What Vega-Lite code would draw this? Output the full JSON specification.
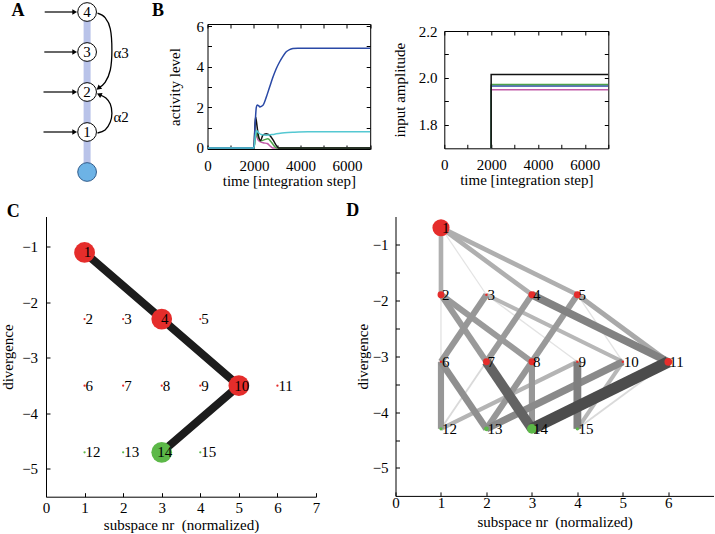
{
 "$schema": "https://vega.github.io/schema/vega-lite/v6.json",
 "padding": 0,
 "background": "white",
 "spacing": 11.5,
 "center": false,
 "config": {
  "view": {"stroke": null},
  "font": "Liberation Serif",
  "axis": {"grid": false, "labelFont": "Liberation Serif", "titleFont": "Liberation Serif", "labelFontSize": 15, "titleFontSize": 15, "titleFontWeight": "normal", "labelColor": "#000", "titleColor": "#000", "domainColor": "#000", "tickColor": "#000", "tickSize": -4, "labelFlush": false, "labelOverlap": false, "labelPadding": 8, "titlePadding": 4},
  "text": {"font": "Liberation Serif", "fontSize": 15, "color": "#000"}
 },
 "datasets": {
  "diagramNodes": [
   {"x": 2.17, "y": 1, "n": "1"}, {"x": 2.17, "y": 2, "n": "2"}, {"x": 2.17, "y": 3, "n": "3"}, {"x": 2.17, "y": 4, "n": "4"}
  ],
  "activity": [
   {"s":"u1","t":0,"v":0},{"s":"u1","t":1995,"v":0},{"s":"u1","t":2050,"v":0.45},{"s":"u1","t":2096,"v":0.66},{"s":"u1","t":2167,"v":0.41},{"s":"u1","t":2282,"v":0.3},{"s":"u1","t":2426,"v":0.25},{"s":"u1","t":2569,"v":0.22},{"s":"u1","t":2713,"v":0.08},{"s":"u1","t":2813,"v":0},{"s":"u1","t":7000,"v":0},
   {"s":"u2","t":0,"v":0},{"s":"u2","t":1995,"v":0},{"s":"u2","t":2060,"v":0.5},{"s":"u2","t":2110,"v":0.75},{"s":"u2","t":2196,"v":0.5},{"s":"u2","t":2310,"v":0.36},{"s":"u2","t":2454,"v":0.41},{"s":"u2","t":2598,"v":0.45},{"s":"u2","t":2741,"v":0.3},{"s":"u2","t":2885,"v":0.08},{"s":"u2","t":2971,"v":0},{"s":"u2","t":7000,"v":0},
   {"s":"u3","t":0,"v":0},{"s":"u3","t":1995,"v":0},{"s":"u3","t":2030,"v":0.8},{"s":"u3","t":2067,"v":1.53},{"s":"u3","t":2100,"v":1.35},{"s":"u3","t":2139,"v":1.0},{"s":"u3","t":2196,"v":0.58},{"s":"u3","t":2282,"v":0.36},{"s":"u3","t":2383,"v":0.63},{"s":"u3","t":2526,"v":0.7},{"s":"u3","t":2670,"v":0.63},{"s":"u3","t":2813,"v":0.41},{"s":"u3","t":2957,"v":0.13},{"s":"u3","t":3057,"v":0},{"s":"u3","t":7000,"v":0},
   {"s":"u4","t":0,"v":0},{"s":"u4","t":1995,"v":0},{"s":"u4","t":2050,"v":1.2},{"s":"u4","t":2100,"v":2.0},{"s":"u4","t":2140,"v":2.12},{"s":"u4","t":2200,"v":2.08},{"s":"u4","t":2253,"v":2.02},{"s":"u4","t":2320,"v":2.05},{"s":"u4","t":2400,"v":2.12},{"s":"u4","t":2526,"v":2.49},{"s":"u4","t":2670,"v":2.99},{"s":"u4","t":2813,"v":3.48},{"s":"u4","t":2957,"v":3.9},{"s":"u4","t":3100,"v":4.23},{"s":"u4","t":3244,"v":4.51},{"s":"u4","t":3387,"v":4.73},{"s":"u4","t":3531,"v":4.84},{"s":"u4","t":3674,"v":4.89},{"s":"u4","t":3889,"v":4.91},{"s":"u4","t":7000,"v":4.91},
   {"s":"u5","t":0,"v":0},{"s":"u5","t":1995,"v":0},{"s":"u5","t":2060,"v":0.6},{"s":"u5","t":2110,"v":0.86},{"s":"u5","t":2196,"v":0.75},{"s":"u5","t":2310,"v":0.66},{"s":"u5","t":2526,"v":0.63},{"s":"u5","t":2885,"v":0.68},{"s":"u5","t":3315,"v":0.75},{"s":"u5","t":3745,"v":0.78},{"s":"u5","t":4318,"v":0.8},{"s":"u5","t":7000,"v":0.8}
  ],
  "input": [
   {"s":"u1","t":0,"v":0},{"s":"u1","t":2000,"v":1.95},{"s":"u1","t":7000,"v":1.95},
   {"s":"u4","t":0,"v":0},{"s":"u4","t":2000,"v":1.966},{"s":"u4","t":7000,"v":1.966},
   {"s":"u2","t":0,"v":0},{"s":"u2","t":2000,"v":1.972},{"s":"u2","t":7000,"v":1.972},
   {"s":"u3","t":0,"v":0},{"s":"u3","t":2000,"v":2.015},{"s":"u3","t":7000,"v":2.015}
  ],
  "nodesC": [
   {"id":"1","x":1,"y":-1.1,"act":1,"kind":"intermediate"},
   {"id":"2","x":1,"y":-2.3,"act":0.012,"kind":"intermediate"},
   {"id":"3","x":2,"y":-2.3,"act":0.012,"kind":"intermediate"},
   {"id":"4","x":3,"y":-2.3,"act":1,"kind":"intermediate"},
   {"id":"5","x":4,"y":-2.3,"act":0.012,"kind":"intermediate"},
   {"id":"6","x":1,"y":-3.5,"act":0.012,"kind":"intermediate"},
   {"id":"7","x":2,"y":-3.5,"act":0.012,"kind":"intermediate"},
   {"id":"8","x":3,"y":-3.5,"act":0.012,"kind":"intermediate"},
   {"id":"9","x":4,"y":-3.5,"act":0.012,"kind":"intermediate"},
   {"id":"10","x":5,"y":-3.5,"act":1,"kind":"intermediate"},
   {"id":"11","x":6,"y":-3.5,"act":0.012,"kind":"intermediate"},
   {"id":"12","x":1,"y":-4.7,"act":0.012,"kind":"goal"},
   {"id":"13","x":2,"y":-4.7,"act":0.012,"kind":"goal"},
   {"id":"14","x":3,"y":-4.7,"act":1,"kind":"goal"},
   {"id":"15","x":4,"y":-4.7,"act":0.012,"kind":"goal"}
  ],
  "nodesD": [
   {"id":"1","x":1,"y":-0.7,"act":0.68,"kind":"intermediate"},
   {"id":"2","x":1,"y":-1.9,"act":0.11,"kind":"intermediate"},
   {"id":"3","x":2,"y":-1.9,"act":0.015,"kind":"intermediate"},
   {"id":"4","x":3,"y":-1.9,"act":0.11,"kind":"intermediate"},
   {"id":"5","x":4,"y":-1.9,"act":0.11,"kind":"intermediate"},
   {"id":"6","x":1,"y":-3.1,"act":0.015,"kind":"intermediate"},
   {"id":"7","x":2,"y":-3.1,"act":0.11,"kind":"intermediate"},
   {"id":"8","x":3,"y":-3.1,"act":0.11,"kind":"intermediate"},
   {"id":"9","x":4,"y":-3.1,"act":0.015,"kind":"intermediate"},
   {"id":"10","x":5,"y":-3.1,"act":0.015,"kind":"intermediate"},
   {"id":"11","x":6,"y":-3.1,"act":0.14,"kind":"intermediate"},
   {"id":"12","x":1,"y":-4.3,"act":0.025,"kind":"goal"},
   {"id":"13","x":2,"y":-4.3,"act":0.05,"kind":"goal"},
   {"id":"14","x":3,"y":-4.3,"act":0.22,"kind":"goal"},
   {"id":"15","x":4,"y":-4.3,"act":0.025,"kind":"goal"}
  ],
  "edgesD": [
   {"x":1,"y":-0.7,"x2":2,"y2":-1.9,"w":0.02},
   {"x":1,"y":-1.9,"x2":1,"y2":-3.1,"w":0.03},
   {"x":2,"y":-1.9,"x2":4,"y2":-3.1,"w":0.03},
   {"x":4,"y":-1.9,"x2":5,"y2":-3.1,"w":0.03},
   {"x":2,"y":-3.1,"x2":1,"y2":-4.3,"w":0.08},
   {"x":6,"y":-3.1,"x2":4,"y2":-4.3,"w":0.08},
   {"x":5,"y":-3.1,"x2":4,"y2":-4.3,"w":0.28},
   {"x":2,"y":-1.9,"x2":5,"y2":-3.1,"w":0.28},
   {"x":4,"y":-3.1,"x2":1,"y2":-4.3,"w":0.3},
   {"x":1,"y":-0.7,"x2":1,"y2":-1.9,"w":0.33},
   {"x":1,"y":-0.7,"x2":3,"y2":-1.9,"w":0.33},
   {"x":1,"y":-0.7,"x2":4,"y2":-1.9,"w":0.33},
   {"x":4,"y":-1.9,"x2":6,"y2":-3.1,"w":0.36},
   {"x":1,"y":-1.9,"x2":2,"y2":-3.1,"w":0.45},
   {"x":1,"y":-1.9,"x2":3,"y2":-3.1,"w":0.45},
   {"x":3,"y":-1.9,"x2":2,"y2":-3.1,"w":0.45},
   {"x":4,"y":-1.9,"x2":3,"y2":-3.1,"w":0.45},
   {"x":2,"y":-1.9,"x2":1,"y2":-3.1,"w":0.47},
   {"x":3,"y":-3.1,"x2":2,"y2":-4.3,"w":0.47},
   {"x":1,"y":-3.1,"x2":1,"y2":-4.3,"w":0.47},
   {"x":3,"y":-3.1,"x2":3,"y2":-4.3,"w":0.47},
   {"x":1,"y":-3.1,"x2":2,"y2":-4.3,"w":0.52},
   {"x":5,"y":-3.1,"x2":2,"y2":-4.3,"w":0.55},
   {"x":3,"y":-1.9,"x2":6,"y2":-3.1,"w":0.6},
   {"x":4,"y":-3.1,"x2":4,"y2":-4.3,"w":0.62},
   {"x":2,"y":-3.1,"x2":3,"y2":-4.3,"w":0.8},
   {"x":6,"y":-3.1,"x2":3,"y2":-4.3,"w":0.95}
  ]
 },
 "vconcat": [
  {
   "spacing": 0.5,
   "center": false,
   "hconcat": [
    {
     "width": 119.3, "height": 190,
     "encoding": {
      "x": {"field": "x", "type": "quantitative", "scale": {"domain": [1.1425, 4.125], "nice": false, "zero": false}, "axis": null},
      "y": {"field": "y", "type": "quantitative", "scale": {"domain": [-0.45, 4.3], "nice": false, "zero": false}, "axis": null}
     },
     "layer": [
      {"data": {"values": [{"x": 2.17, "y": 0, "y2": 4}]}, "mark": {"type": "rule", "strokeWidth": 7, "color": "#b9c3e9"}, "encoding": {"y2": {"field": "y2"}}},
      {"data": {"values": [{"x": 1.08, "x2": 1.86, "y": 1}, {"x": 1.08, "x2": 1.86, "y": 2}, {"x": 1.1, "x2": 1.86, "y": 3}, {"x": 1.11, "x2": 1.86, "y": 4}]}, "mark": {"type": "rule", "strokeWidth": 1.2, "color": "#000"}, "encoding": {"x2": {"field": "x2"}}},
      {"data": {"values": [{"x": 1.86, "y": 1}, {"x": 1.86, "y": 2}, {"x": 1.86, "y": 3}, {"x": 1.86, "y": 4}]}, "mark": {"type": "point", "shape": "triangle-right", "filled": true, "color": "#000", "size": 30, "opacity": 1}},
      {"data": {"values": [
        {"arc":"a3","o":1,"x":2.43,"y":3.97},{"arc":"a3","o":2,"x":2.62,"y":3.86},{"arc":"a3","o":3,"x":2.75,"y":3.58},{"arc":"a3","o":4,"x":2.79,"y":3.05},{"arc":"a3","o":5,"x":2.75,"y":2.55},{"arc":"a3","o":6,"x":2.62,"y":2.24},{"arc":"a3","o":7,"x":2.47,"y":2.11},
        {"arc":"a2","o":1,"x":2.43,"y":0.975},{"arc":"a2","o":2,"x":2.62,"y":1.05},{"arc":"a2","o":3,"x":2.75,"y":1.25},{"arc":"a2","o":4,"x":2.79,"y":1.47},{"arc":"a2","o":5,"x":2.75,"y":1.7},{"arc":"a2","o":6,"x":2.64,"y":1.85},{"arc":"a2","o":7,"x":2.49,"y":1.93}
       ]},
       "mark": {"type": "line", "color": "#000", "strokeWidth": 1.3, "interpolate": "cardinal"},
       "encoding": {"detail": {"field": "arc", "type": "nominal"}, "order": {"field": "o", "type": "quantitative"}}},
      {"data": {"values": [{"x": 2.47, "y": 2.11}]}, "mark": {"type": "point", "shape": "triangle", "angle": 230, "filled": true, "color": "#000", "size": 32, "opacity": 1}},
      {"data": {"values": [{"x": 2.49, "y": 1.93}]}, "mark": {"type": "point", "shape": "triangle", "angle": 295, "filled": true, "color": "#000", "size": 32, "opacity": 1}},
      {"data": {"name": "diagramNodes"}, "mark": {"type": "point", "shape": "circle", "filled": true, "fill": "#fff", "stroke": "#000", "strokeWidth": 1, "size": 350, "opacity": 1}},
      {"data": {"values": [{"x": 2.17, "y": 0}]}, "mark": {"type": "point", "shape": "circle", "filled": true, "fill": "#6db3e6", "stroke": "#2e5a8a", "strokeWidth": 1, "size": 350, "opacity": 1}},
      {"data": {"name": "diagramNodes"}, "mark": {"type": "text", "align": "center", "baseline": "middle", "fontSize": 15}, "encoding": {"text": {"field": "n"}}},
      {"data": {"values": [{"x": 2.83, "y": 2.975, "t": "α3"}, {"x": 2.83, "y": 1.375, "t": "α2"}]}, "mark": {"type": "text", "align": "left", "baseline": "middle", "fontSize": 15}, "encoding": {"text": {"field": "t"}}},
      {"data": {"values": [{"x": 0.44, "y": 4.025, "t": "A"}, {"x": 3.94, "y": 4.025, "t": "B"}]}, "mark": {"type": "text", "align": "center", "baseline": "middle", "fontSize": 18, "fontWeight": "bold"}, "encoding": {"text": {"field": "t"}}}
     ]
    },
    {
     "spacing": 19.8,
     "center": false,
     "hconcat": [
      {
       "spacing": 0,
       "center": false,
       "vconcat": [
        {"data": {"values": []}, "mark": {"type": "point", "opacity": 0}, "width": 1, "height": 17.7},
        {
         "width": 162.7, "height": 125,
         "view": {"stroke": "#000", "strokeWidth": 1},
         "data": {"name": "activity"},
         "layer": [
          {"mark": {"type": "line", "strokeWidth": 1.5, "interpolate": "monotone", "clip": true},
           "encoding": {
            "x": {"field": "t", "type": "quantitative", "scale": {"domain": [0, 7000], "nice": false, "zero": false}, "axis": {"values": [0,1000,2000,3000,4000,5000,6000,7000], "labelExpr": "datum.value % 2000 == 0 && datum.value < 7000 ? format(datum.value, 'd') : ''", "title": "time [integration step]", "domain": false, "labelPadding": 13, "titlePadding": 0}},
            "y": {"field": "v", "type": "quantitative", "scale": {"domain": [-0.05, 6.1], "nice": false, "zero": false}, "axis": {"values": [0,1,2,3,4,5,6], "labelExpr": "datum.value % 2 == 0 ? format(datum.value, 'd') : ''", "title": "activity level", "domain": false, "labelPadding": 8, "titlePadding": 14}},
            "color": {"field": "s", "type": "nominal", "scale": {"domain": ["u1","u2","u3","u4","u5"], "range": ["#c25aa8","#4fa44a","#111111","#2a49a6","#55c8d2"]}, "legend": null}
           }},
          {"mark": {"type": "line", "opacity": 0, "clip": true},
           "encoding": {
            "x": {"field": "t", "type": "quantitative", "scale": {"domain": [0, 7000], "nice": false, "zero": false}, "axis": {"orient": "top", "values": [0,1000,2000,3000,4000,5000,6000,7000], "labels": false, "title": null, "domain": false}},
            "y": {"field": "v", "type": "quantitative", "scale": {"domain": [-0.05, 6.1], "nice": false, "zero": false}, "axis": {"orient": "right", "values": [0,1,2,3,4,5,6], "labels": false, "title": null, "domain": false}},
            "detail": {"field": "s", "type": "nominal"}
           }}
         ],
         "resolve": {"axis": {"x": "independent", "y": "independent"}}
        }
       ]
      },
      {
       "spacing": 0,
       "center": false,
       "vconcat": [
        {"data": {"values": []}, "mark": {"type": "point", "opacity": 0}, "width": 1, "height": 22.7},
        {
         "width": 164, "height": 117.3,
         "view": {"stroke": "#000", "strokeWidth": 1},
         "data": {"name": "input"},
         "layer": [
          {"mark": {"type": "line", "strokeWidth": 1.5, "interpolate": "step-after", "clip": true},
           "encoding": {
            "x": {"field": "t", "type": "quantitative", "scale": {"domain": [0, 7000], "nice": false, "zero": false}, "axis": {"values": [0,1000,2000,3000,4000,5000,6000,7000], "labelExpr": "datum.value % 2000 == 0 && datum.value < 7000 ? format(datum.value, 'd') : ''", "title": "time [integration step]", "domain": false, "labelPadding": 13.5, "titlePadding": 0}},
            "y": {"field": "v", "type": "quantitative", "scale": {"domain": [1.7, 2.2], "nice": false, "zero": false}, "axis": {"values": [1.8,1.9,2.0,2.1,2.2], "labelExpr": "round(datum.value * 10) % 2 == 0 ? format(datum.value, '.1f') : ''", "title": "input amplitude", "domain": false, "labelPadding": 11.3, "titlePadding": 11}},
            "color": {"field": "s", "type": "nominal", "scale": {"domain": ["u1","u2","u3","u4","u5"], "range": ["#c25aa8","#4fa44a","#111111","#2a49a6","#55c8d2"]}, "legend": null}
           }},
          {"mark": {"type": "line", "opacity": 0, "clip": true},
           "encoding": {
            "x": {"field": "t", "type": "quantitative", "scale": {"domain": [0, 7000], "nice": false, "zero": false}, "axis": {"orient": "top", "values": [0,1000,2000,3000,4000,5000,6000,7000], "labels": false, "title": null, "domain": false}},
            "y": {"field": "v", "type": "quantitative", "scale": {"domain": [1.7, 2.2], "nice": false, "zero": false}, "axis": {"orient": "right", "values": [1.8,1.9,2.0,2.1,2.2], "labels": false, "title": null, "domain": false}},
            "detail": {"field": "s", "type": "nominal"}
           }}
         ],
         "resolve": {"axis": {"x": "independent", "y": "independent"}}
        }
       ]
      }
     ]
    }
   ]
  },
  {
   "spacing": 25.5,
   "center": false,
   "hconcat": [
    {
     "width": 270, "height": 280.2,
     "encoding": {
      "x": {"field": "x", "type": "quantitative", "scale": {"domain": [0, 7], "nice": false, "zero": false}, "axis": {"values": [0,1,2,3,4,5,6,7], "format": "d", "title": "subspace nr\u00a0 (normalized)", "labelPadding": 8, "titlePadding": 1.7}},
      "y": {"field": "y", "type": "quantitative", "scale": {"domain": [-5.5, -0.452], "nice": false, "zero": false}, "axis": {"values": [-5,-4,-3,-2,-1], "format": "d", "title": "divergence", "labelPadding": 12.4, "titlePadding": 6.3}}
     },
     "layer": [
      {"data": {"values": [{"x":1,"y":-1.1,"o":1},{"x":3,"y":-2.3,"o":2},{"x":5,"y":-3.5,"o":3},{"x":3,"y":-4.7,"o":4}]}, "mark": {"type": "line", "color": "#1c1c1c", "strokeWidth": 8}, "encoding": {"order": {"field": "o", "type": "quantitative"}}},
      {"data": {"name": "nodesC"}, "mark": {"type": "point", "shape": "circle", "filled": true, "opacity": 1, "strokeWidth": 0},
       "encoding": {
        "size": {"field": "act", "type": "quantitative", "scale": {"domain": [0, 1], "range": [0, 430]}, "legend": null},
        "fill": {"field": "kind", "type": "nominal", "scale": {"domain": ["intermediate", "goal"], "range": ["#e52d2b", "#5cb848"]}, "legend": null}
       }},
      {"data": {"name": "nodesC"}, "transform": [{"filter": "datum.act < 0.5"}], "mark": {"type": "text", "align": "left", "baseline": "middle", "dx": 1, "fontSize": 15}, "encoding": {"text": {"field": "id"}}},
      {"data": {"name": "nodesC"}, "transform": [{"filter": "datum.act >= 0.5"}], "mark": {"type": "text", "align": "center", "baseline": "middle", "dx": 3, "fontSize": 15}, "encoding": {"text": {"field": "id"}}},
      {"data": {"values": [{"x": -0.85, "y": -0.366, "t": "C"}]}, "mark": {"type": "text", "align": "center", "baseline": "middle", "fontSize": 18, "fontWeight": "bold"}, "encoding": {"text": {"field": "t"}}}
     ]
    },
    {
     "width": 318.3, "height": 279.4,
     "encoding": {
      "x": {"field": "x", "type": "quantitative", "scale": {"domain": [0, 7], "nice": false, "zero": false}, "axis": {"values": [0,1,2,3,4,5,6], "format": "d", "title": "subspace nr\u00a0 (normalized)", "labelPadding": 4, "titlePadding": 4}},
      "y": {"field": "y", "type": "quantitative", "scale": {"domain": [-5.5, -0.5], "nice": false, "zero": false}, "axis": {"values": [-5,-4.5,-4,-3.5,-3,-2.5,-2,-1.5,-1], "labelExpr": "datum.value % 1 == 0 ? format(datum.value, 'd') : ''", "title": "divergence", "labelPadding": 11.4, "titlePadding": 2}}
     },
     "layer": [
      {"data": {"name": "edgesD"}, "mark": {"type": "rule"},
       "encoding": {
        "x2": {"field": "x2"}, "y2": {"field": "y2"},
        "strokeWidth": {"field": "w", "type": "quantitative", "scale": {"domain": [0, 1], "range": [1, 12]}, "legend": null},
        "stroke": {"field": "w", "type": "quantitative", "scale": {"domain": [0, 1], "range": ["#e8e8e8", "#454545"]}, "legend": null}
       }},
      {"data": {"name": "nodesD"}, "mark": {"type": "point", "shape": "circle", "filled": true, "opacity": 1, "strokeWidth": 0},
       "encoding": {
        "size": {"field": "act", "type": "quantitative", "scale": {"domain": [0, 1], "range": [0, 430]}, "legend": null},
        "fill": {"field": "kind", "type": "nominal", "scale": {"domain": ["intermediate", "goal"], "range": ["#e52d2b", "#5cb848"]}, "legend": null}
       }},
      {"data": {"name": "nodesD"}, "mark": {"type": "text", "align": "left", "baseline": "middle", "dx": 1, "fontSize": 15}, "encoding": {"text": {"field": "id"}}},
      {"data": {"values": [{"x": -0.94, "y": -0.405, "t": "D"}]}, "mark": {"type": "text", "align": "center", "baseline": "middle", "fontSize": 18, "fontWeight": "bold"}, "encoding": {"text": {"field": "t"}}}
     ]
    }
   ]
  }
 ]
}
